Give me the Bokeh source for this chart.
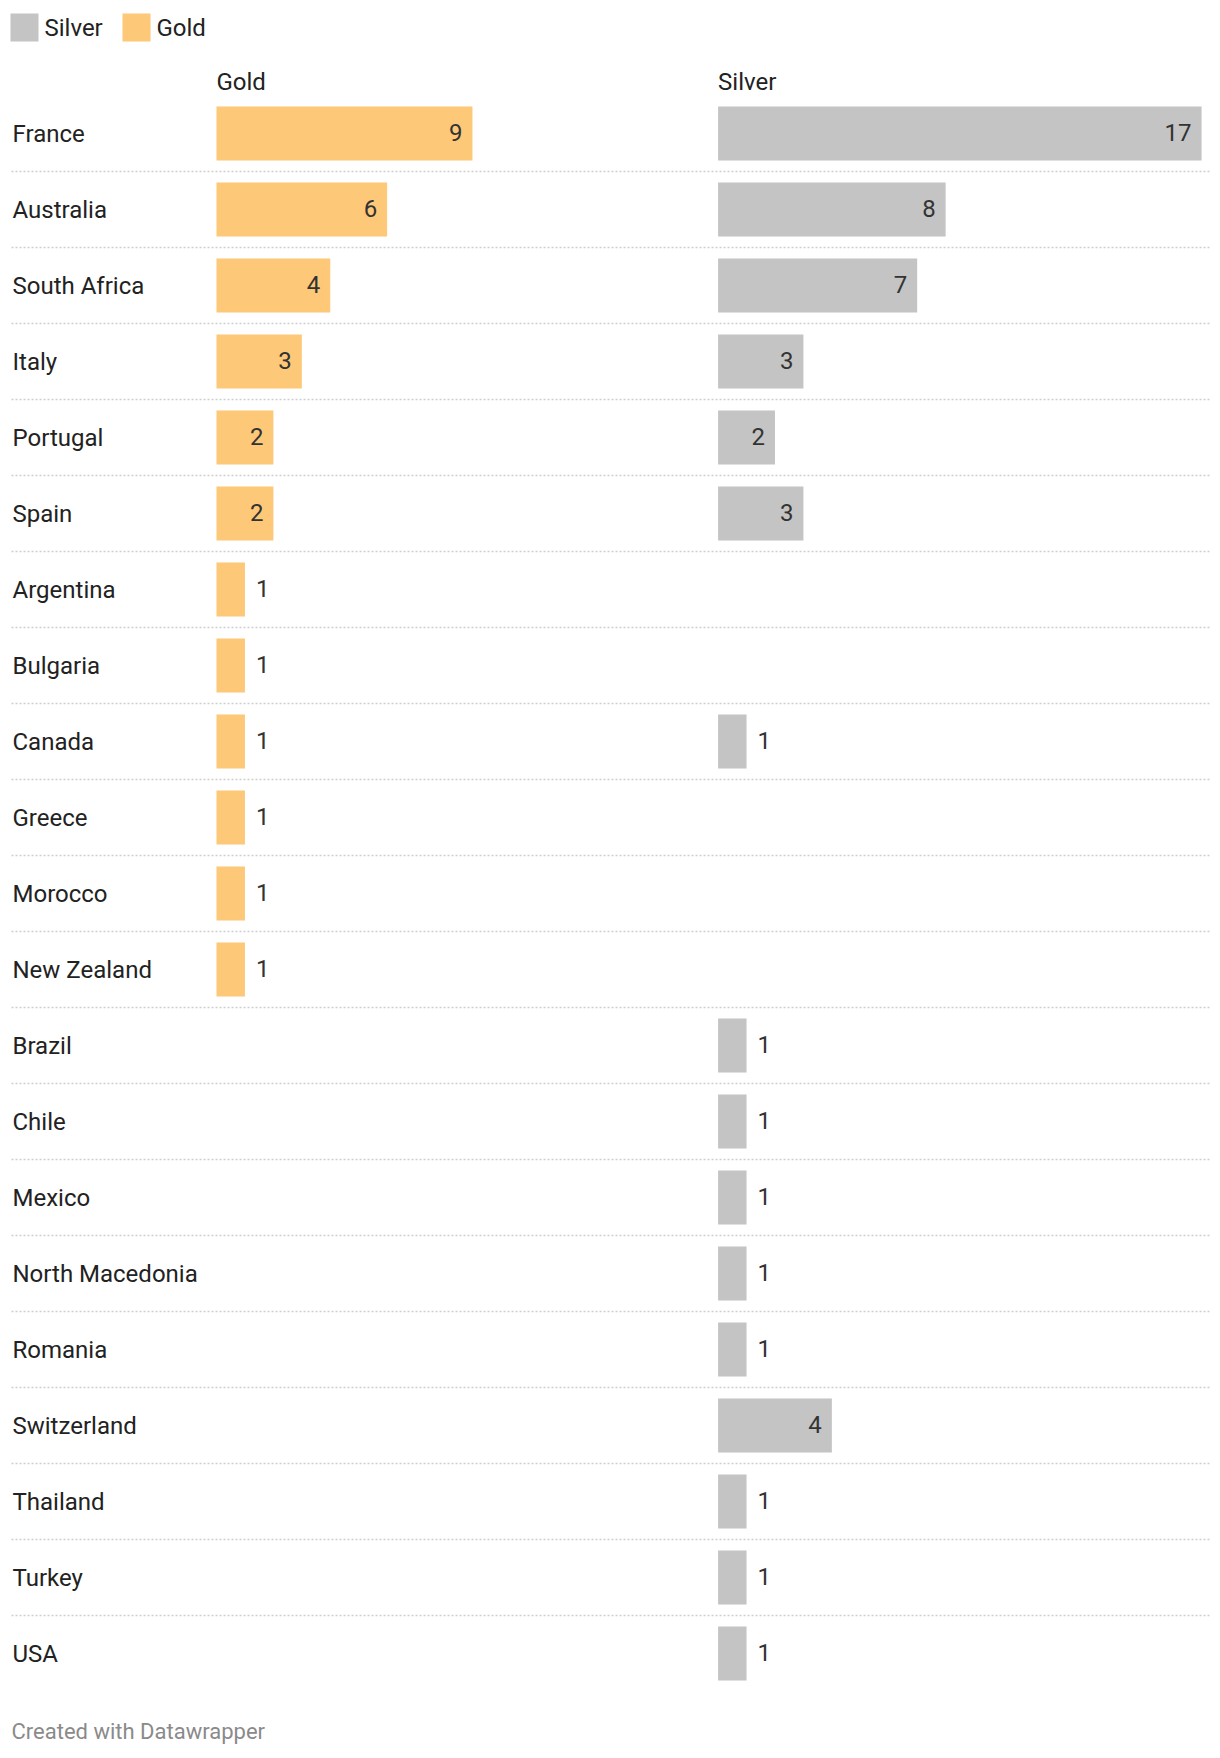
from bokeh.plotting import figure
from bokeh.models import Range1d
from bokeh.core.properties import value
from bokeh.embed import file_html
from bokeh.resources import INLINE

# ---------------- data ----------------
countries = ["France", "Australia", "South Africa", "Italy", "Portugal", "Spain",
             "Argentina", "Bulgaria", "Canada", "Greece", "Morocco", "New Zealand",
             "Brazil", "Chile", "Mexico", "North Macedonia", "Romania", "Switzerland",
             "Thailand", "Turkey", "USA"]
gold = [9, 6, 4, 3, 2, 2, 1, 1, 1, 1, 1, 1, 0, 0, 0, 0, 0, 0, 0, 0, 0]
silver = [17, 8, 7, 3, 2, 3, 0, 0, 1, 0, 0, 0, 1, 1, 1, 1, 1, 4, 1, 1, 1]
series_names = ["Gold", "Silver"]
legend_names = ["Silver", "Gold"]
footer_text = "Created with Datawrapper"

# ---------------- layout / style ----------------
GOLD_C = "#fdc877"
SILVER_C = "#c4c4c4"
FONT = "Roboto"
FIG_W, FIG_H = 1212, 1750
LEFT, TOP = 0, 0
PX = 28.44            # pixels per medal
GOLD0 = 216.0         # page x of gold zero
SILVER0 = 717.6       # page x of silver zero
ROW0, PITCH = 133.0, 76.0
BAR_H = 54.0 / PITCH


def gx(page_x):
    return (page_x - GOLD0) / PX


def ry(page_y):
    return (page_y - ROW0) / PITCH


p = figure(width=FIG_W, height=FIG_H, output_backend="svg", toolbar_location=None,
           x_axis_location=None, y_axis_location=None,
           x_range=Range1d((LEFT - GOLD0) / PX, (LEFT + FIG_W - GOLD0) / PX),
           y_range=Range1d((TOP + FIG_H - ROW0) / PITCH, (TOP - ROW0) / PITCH),
           min_border=0, outline_line_color=None, background_fill_color="white",
           border_fill_color="white")
p.extra_x_ranges = {"silver": Range1d((LEFT - SILVER0) / PX, (LEFT + FIG_W - SILVER0) / PX)}
p.xgrid.visible = False
p.ygrid.visible = False

idx = list(range(len(countries)))

# separators between rows
sep_y = [i + 0.5 for i in idx[:-1]]
p.segment(x0=[gx(11)] * len(sep_y), x1=[gx(1209)] * len(sep_y), y0=sep_y, y1=sep_y,
          line_color="#cfcfcf", line_width=1.3, line_dash="2 2")

# country labels
p.text(x=[gx(12)] * len(countries), y=idx, text=countries, text_font=value(FONT),
       text_font_size="24px", text_color="#222222", text_align="left",
       text_baseline="middle")


def draw_series(vals, color, rng):
    kw = {} if rng is None else {"x_range_name": rng}
    yy = [i for i, v in zip(idx, vals) if v > 0]
    vv = [v for v in vals if v > 0]
    p.hbar(y=yy, left=0, right=vv, height=BAR_H, fill_color=color, line_color=None, **kw)
    ins = [(i, v) for i, v in zip(yy, vv) if v >= 2]
    out = [(i, v) for i, v in zip(yy, vv) if v < 2]
    if ins:
        p.text(x=[v for _, v in ins], y=[i for i, _ in ins], text=[str(v) for _, v in ins],
               x_offset=-10, y_offset=-1, text_align="right", text_baseline="middle",
               text_font=value(FONT), text_font_size="24px", text_color="#333333", **kw)
    if out:
        p.text(x=[v for _, v in out], y=[i for i, _ in out], text=[str(v) for _, v in out],
               x_offset=11, y_offset=-1, text_align="left", text_baseline="middle",
               text_font=value(FONT), text_font_size="24px", text_color="#333333", **kw)


draw_series(gold, GOLD_C, None)
draw_series(silver, SILVER_C, "silver")

# column headers
p.text(x=[0], y=[ry(81)], text=[series_names[0]], text_font=value(FONT),
       text_font_size="24px", text_color="#222222", text_baseline="alphabetic")
p.text(x=[0], y=[ry(81)], text=[series_names[1]], text_font=value(FONT),
       text_font_size="24px", text_color="#222222", text_baseline="alphabetic",
       x_range_name="silver")

# legend (manual)
sw = 28.0
p.rect(x=[gx(10 + sw / 2), gx(122 + sw / 2)], y=[ry(27), ry(27)], width=sw / PX,
       height=sw / PITCH, fill_color=[SILVER_C, GOLD_C], line_color=None)
p.text(x=[gx(44), gx(156)], y=[ry(27), ry(27)], text=legend_names, text_font=value(FONT),
       text_font_size="24px", text_color="#222222", text_baseline="middle")

# footer
p.text(x=[gx(11)], y=[ry(1731)], text=[footer_text], text_font=value(FONT),
       text_font_size="22px", text_color="#8a8a8a", text_baseline="middle")

open("out.html", "w").write(file_html(p, INLINE))
